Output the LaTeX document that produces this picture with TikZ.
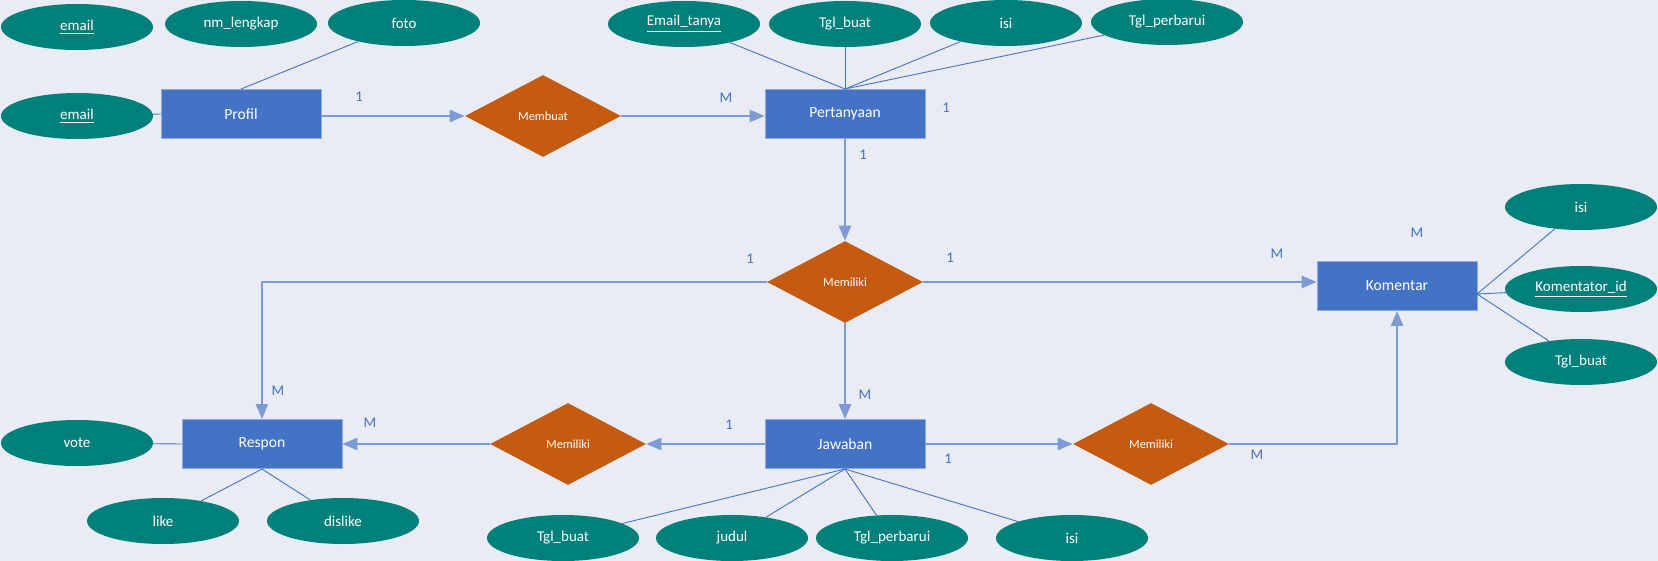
\documentclass[tikz,border=0pt]{standalone}
\usepackage{fontspec}
\setmainfont{Carlito}
\usetikzlibrary{arrows,shapes.geometric}
\definecolor{latar}{RGB}{233,236,245}
\definecolor{biru}{RGB}{68,114,196}
\definecolor{garis}{RGB}{126,154,214}
\definecolor{oranye}{RGB}{197,90,17}
\definecolor{hijau}{RGB}{0,128,122}
\tikzset{
  entitas/.style={rectangle,fill=biru,draw=biru!60!white,line width=0.5pt,minimum width=80pt,minimum height=24.5pt,inner sep=0pt,text=white,font=\fontsize{7.8}{9}\selectfont},
  relasi/.style={diamond,fill=oranye,minimum width=78pt,minimum height=41pt,inner sep=0pt,text=white,font=\fontsize{6.2}{7}\selectfont},
  atribut/.style={ellipse,fill=hijau,minimum width=76pt,minimum height=23pt,inner sep=0pt,text=white,font=\fontsize{7.5}{9}\selectfont},
  card/.style={text=biru,font=\fontsize{7.4}{9}\selectfont},
  hub/.style={draw=garis,line width=0.7pt},
  attr/.style={draw=biru,line width=0.45pt}
}
\begin{document}
\begin{tikzpicture}[line cap=round,line join=round,>=triangle 45,x=0.5pt,y=-0.5pt]
\fill[latar] (0,0) rectangle (1658,561);
\useasboundingbox (0,0) rectangle (1658,561);

% entitas
\node[entitas] (profil) at (241,114) {Profil};
\node[entitas] (pertanyaan) at (845,114) {Pertanyaan};
\node[entitas] (komentar) at (1397,286) {Komentar};
\node[entitas] (respon) at (262,444) {Respon};
\node[entitas] (jawaban) at (845,444) {Jawaban};

% relasi
\node[relasi] (membuat) at (543,116) {Membuat};
\node[relasi] (memA) at (845,282) {Memiliki};
\node[relasi] (memB) at (568,444) {Memiliki};
\node[relasi] (memC) at (1151,444) {Memiliki};

% atribut profil
\node[atribut] (emailA) at (77,27) {\underline{email}};
\node[atribut] (nmlengkap) at (241,24) {nm\_lengkap};
\node[atribut] (foto) at (404,23) {foto};
\node[atribut] (emailB) at (77,116) {\underline{email}};
\draw[attr] (foto) -- (profil.north);
\draw[attr] (emailB) -- (profil.west);

% atribut pertanyaan
\node[atribut] (emailtanya) at (684,24) {\underline{Email\_tanya}};
\node[atribut] (tglbuatP) at (845,24) {Tgl\_buat};
\node[atribut] (isiP) at (1006,23) {isi};
\node[atribut] (tglperbaruiP) at (1167,22) {Tgl\_perbarui};
\foreach \a in {emailtanya,tglbuatP,isiP,tglperbaruiP}
  \draw[attr] (\a) -- (pertanyaan.north);

% atribut komentar
\node[atribut] (isiK) at (1581,207) {isi};
\node[atribut] (komentatorid) at (1581,289) {\underline{Komentator\_id}};
\node[atribut] (tglbuatK) at (1581,362) {Tgl\_buat};
\coordinate (kanan) at (1477,294);
\foreach \a in {isiK,komentatorid,tglbuatK}
  \draw[attr] (\a) -- (kanan);

% atribut respon
\node[atribut] (vote) at (77,443) {vote};
\node[atribut] (like) at (163,521) {like};
\node[atribut] (dislike) at (343,521) {dislike};
\draw[attr] (vote) -- (respon.west);
\draw[attr] (like) -- (respon.south);
\draw[attr] (dislike) -- (respon.south);

% atribut jawaban
\node[atribut] (tglbuatJ) at (563,538) {Tgl\_buat};
\node[atribut] (judul) at (732,538) {judul};
\node[atribut] (tglperbaruiJ) at (892,538) {Tgl\_perbarui};
\node[atribut] (isiJ) at (1072,538) {isi};
\foreach \a in {tglbuatJ,judul,tglperbaruiJ,isiJ}
  \draw[attr] (\a) -- (jawaban.south);

% hubungan
\draw[hub,->] (membuat.west -| profil.east) -- (membuat.west);
\draw[hub,->] (membuat.east) -- (membuat.east -| pertanyaan.west);
\draw[hub,->] (pertanyaan.south) -- (memA.north);
\draw[hub,->] (memA.south) -- (jawaban.north);
\draw[hub,->] (memA.west) -| (respon.north);
\draw[hub,->] (memA.east) -- (memA.east -| komentar.west);
\draw[hub,->] (jawaban.west) -- (memB.east);
\draw[hub,->] (memB.west) -- (respon.east);
\draw[hub,->] (jawaban.east) -- (memC.west);
\draw[hub,->] (memC.east) -| (komentar.south);

% kardinalitas
\node[card] (c1) at (359,97) {1};
\node[card] (c2) at (726,98) {M};
\node[card] (c3) at (946,108) {1};
\node[card] (c4) at (863,155) {1};
\node[card] (c5) at (750,259) {1};
\node[card] (c6) at (950,258) {1};
\node[card] (c7) at (1277,254) {M};
\node[card] (c8) at (1417,233) {M};
\node[card] (c9) at (278,391) {M};
\node[card] (c10) at (370,423) {M};
\node[card] (c11) at (865,395) {M};
\node[card] (c12) at (729,425) {1};
\node[card] (c13) at (948,459) {1};
\node[card] (c14) at (1257,455) {M};
\end{tikzpicture}
\end{document}
